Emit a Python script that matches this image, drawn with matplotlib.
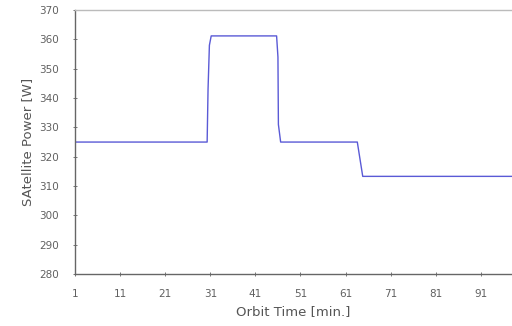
import matplotlib
matplotlib.use("Agg")
import matplotlib.pyplot as plt

# Satellitenleistung ueber eine Orbitperiode
orbit_time = [1, 30.3, 30.5, 30.8, 31.2, 45.7, 46.0, 46.1, 46.6, 63.6, 63.7, 64.8, 100]
power = [325, 325, 343, 358, 361.2, 361.2, 354, 331, 325, 325, 324, 313.3, 313.3]

x_ticks = [1, 11, 21, 31, 41, 51, 61, 71, 81, 91]
y_ticks = [280, 290, 300, 310, 320, 330, 340, 350, 360, 370]

plt.rcParams['font.family'] = ['DejaVu Sans']
fig = plt.figure(figsize=(5.12, 3.26), dpi=100)
ax = fig.add_axes([0.1465, 0.1595, 0.8535, 0.8095])

ax.plot(orbit_time, power, color='#5a5ad6', linewidth=1.0)

ax.set_xlim(1, 97.9)
ax.set_ylim(280, 370)
ax.set_xticks(x_ticks)
ax.set_yticks(y_ticks)

tick_col = '#606060'
ax.tick_params(axis='both', labelsize=7.5, colors=tick_col, direction='inout', length=3, width=0.6)
ax.tick_params(axis='x', pad=9)
ax.tick_params(axis='y', pad=10)

ax.spines['left'].set_color('#666666')
ax.spines['bottom'].set_color('#666666')
ax.spines['top'].set_color('#bbbbbb')
ax.spines['right'].set_visible(False)
for s in ['left', 'bottom', 'top']:
    ax.spines[s].set_linewidth(1.0)

ax.set_xlabel("Orbit Time [min.]", fontsize=9.5, color='#555555', labelpad=5)
ax.set_ylabel("SAtellite Power [W]", fontsize=9.5, color='#555555', labelpad=4)

fig.savefig("out.png", dpi=100)
